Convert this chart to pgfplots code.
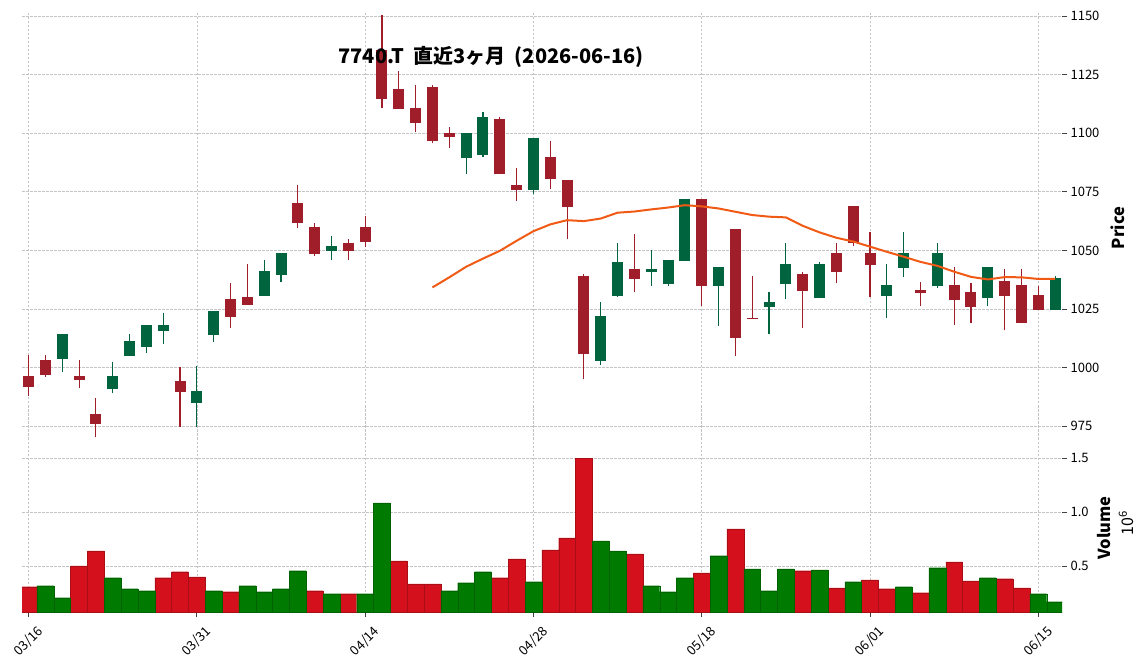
\documentclass[border=0pt]{standalone}
\usepackage{fontspec}
\setmainfont{Noto Sans CJK JP}
\usepackage{pgfplots}
\pgfplotsset{compat=1.18}
\usepackage{pgfplotstable}

\definecolor{cred}{RGB}{160,30,42}
\definecolor{cgreen}{RGB}{0,100,62}
\definecolor{vred}{RGB}{211,16,27}
\definecolor{vgreen}{RGB}{0,122,0}
\definecolor{mac}{RGB}{240,90,20}
\definecolor{gridc}{RGB}{196,196,196}

% down candles (close < open)
\pgfplotstableread{
x o h l c
0 996.3 1005.3 988.0 991.8
1 1003.2 1005.3 996.1 996.8
3 996.3 1003.2 991.1 994.6
4 980.1 986.8 970.2 975.9
9 994.2 1000.0 974.7 989.5
12 1029.2 1035.9 1017.0 1021.7
13 1030.1 1044.0 1026.7 1026.7
16 1070.3 1077.9 1059.7 1061.8
17 1059.9 1061.9 1047.7 1048.4
19 1053.3 1054.7 1045.9 1049.8
20 1059.9 1064.8 1051.6 1053.7
21 1135.5 1150.5 1110.6 1114.7
22 1118.8 1126.7 1110.4 1110.4
23 1110.9 1120.8 1100.6 1104.5
24 1119.7 1120.8 1095.7 1096.8
25 1100.1 1102.8 1093.9 1098.5
28 1106.2 1106.8 1082.7 1082.7
29 1077.9 1085.0 1070.9 1075.9
31 1090.0 1096.9 1076.2 1080.4
32 1080.0 1080.0 1054.7 1068.6
33 1039.0 1039.9 994.9 1005.7
36 1042.2 1056.8 1032.1 1037.9
40 1071.9 1071.9 1026.2 1034.9
42 1059.1 1059.1 1005.0 1012.7
43 1021.3 1039.0 1020.7 1020.7
46 1039.9 1040.9 1017.0 1032.8
48 1048.8 1053.0 1035.9 1040.9
49 1068.9 1068.9 1051.8 1053.3
50 1048.8 1057.7 1030.2 1043.7
53 1033.1 1036.6 1026.2 1031.9
55 1035.2 1042.7 1018.1 1028.8
56 1032.2 1035.9 1018.8 1025.9
58 1036.9 1041.9 1016.0 1030.6
59 1035.2 1041.9 1018.8 1018.8
60 1030.9 1034.9 1024.5 1024.5
}\redc

% up candles (close > open)
\pgfplotstableread{
x o h l c
2 1003.6 1014.3 997.9 1014.3
5 990.8 1002.2 989.0 996.3
6 1004.9 1014.3 1004.9 1011.3
7 1008.9 1018.1 1006.0 1018.1
8 1015.6 1023.1 1009.9 1018.1
10 985.0 1000.8 974.7 990.0
11 1013.8 1024.1 1011.0 1024.1
14 1030.5 1045.9 1030.5 1041.2
15 1039.5 1048.8 1036.6 1048.8
18 1049.8 1056.0 1045.9 1051.8
26 1089.5 1100.1 1082.8 1100.1
27 1090.7 1108.9 1089.7 1107.0
30 1075.7 1098.1 1074.0 1098.1
34 1002.9 1027.8 1001.0 1022.0
35 1030.5 1053.0 1030.2 1045.0
37 1040.9 1050.1 1034.9 1041.9
38 1035.6 1045.9 1034.9 1045.9
39 1045.4 1071.9 1045.4 1071.9
41 1034.9 1042.9 1017.8 1042.9
44 1025.9 1032.1 1014.1 1027.9
45 1035.6 1053.0 1029.1 1044.2
47 1029.8 1044.9 1029.8 1044.2
51 1030.6 1044.0 1021.0 1035.2
52 1042.6 1057.7 1038.7 1048.8
54 1034.8 1053.0 1033.8 1048.8
57 1029.8 1042.9 1026.2 1042.9
61 1024.5 1039.0 1024.5 1038.3
}\greenc

% moving average
\pgfplotstableread{
x m
24 1034.2
25 1038.5
26 1043.0
27 1046.5
28 1049.8
29 1054.1
30 1058.2
31 1061.1
32 1062.9
33 1062.5
34 1063.6
35 1066.1
36 1066.6
37 1067.5
38 1068.3
39 1069.3
40 1068.8
41 1067.9
42 1066.5
43 1065.1
44 1064.4
45 1064.1
46 1060.5
47 1057.7
48 1055.4
49 1053.8
50 1051.6
51 1049.4
52 1047.3
53 1045.1
54 1043.4
55 1040.9
56 1038.7
57 1037.6
58 1038.6
59 1038.5
60 1037.8
61 1037.8
}\matab

% volume (millions), falling
\pgfplotstableread{
x v
0 0.309
3 0.503
4 0.642
8 0.392
9 0.448
10 0.401
12 0.262
17 0.272
19 0.244
22 0.549
23 0.336
24 0.336
28 0.392
29 0.568
31 0.651
32 0.762
33 1.500
36 0.614
40 0.438
42 0.846
46 0.457
48 0.299
50 0.373
51 0.290
53 0.253
55 0.540
56 0.364
58 0.383
59 0.299
}\volred

% volume (millions), rising
\pgfplotstableread{
x v
1 0.318
2 0.207
5 0.392
6 0.290
7 0.272
11 0.272
13 0.318
14 0.262
15 0.290
16 0.457
18 0.244
20 0.244
21 1.086
25 0.272
26 0.346
27 0.448
30 0.355
34 0.735
35 0.642
37 0.318
38 0.262
39 0.392
41 0.596
43 0.475
44 0.272
45 0.475
47 0.466
49 0.355
52 0.309
54 0.485
57 0.392
60 0.244
61 0.170
}\volgreen

\pgfplotsset{
  common/.style={
    scale only axis, width=1040pt,
    xmin=-0.39, xmax=61.41,
    axis line style={draw=none},
    xtick={0,10,...,60},
    grid=major,
    major grid style={gridc, dash pattern=on 2.6pt off 1.4pt, line width=0.7pt},
    tick align=outside, major tick length=5pt,
    ytick pos=right, yticklabel pos=right,
    ytick style={color=black!75, line width=0.8pt},
    tick label style={font=\fontsize{13}{15}\selectfont},
    /pgf/number format/assume math mode=true,
    /pgf/number format/1000 sep={},
  },
  wick/.style={draw=none, mark=none, forget plot,
    error bars/.cd, y dir=plus, y explicit, error mark=none,
    error bar style={draw=#1, line width=1.1pt}},
  body/.style={draw=none, mark=none, forget plot,
    error bars/.cd, y dir=plus, y explicit, error mark=none,
    error bar style={draw=#1, line width=11pt}},
}

\begin{document}
\begin{tikzpicture}[x=1pt,y=1pt]
\useasboundingbox (0,0) rectangle (1148,670);

\begin{axis}[common,
  height=427.5pt, at={(22pt,230.5pt)}, anchor=south west,
  ymin=969.25, ymax=1151.8,
  xticklabels={}, xtick style={draw=none},
  ytick={975,1000,...,1150},
  ylabel={\textbf{Price}},
  ylabel style={at={([xshift=56pt]rel axis cs:1,0.495)}, anchor=center, font=\fontsize{16.5}{19}\selectfont},
  title={\textbf{7740.T\hspace{0.45em}直近3ヶ月\hspace{0.45em}(2026-06-16)}},
  title style={at={([yshift=-51pt]axis description cs:0.451,1)}, anchor=center, font=\fontsize{20}{24}\selectfont},
]
\addplot[wick=cred] table[x=x, y=l, y error expr=\thisrow{h}-\thisrow{l}] {\redc};
\addplot[body=cred] table[x=x, y=c, y error expr=\thisrow{o}-\thisrow{c}] {\redc};
\addplot[wick=cgreen] table[x=x, y=l, y error expr=\thisrow{h}-\thisrow{l}] {\greenc};
\addplot[body=cgreen] table[x=x, y=o, y error expr=\thisrow{c}-\thisrow{o}] {\greenc};
\addplot[mac, line width=2pt, mark=none] table[x=x, y=m] {\matab};
\end{axis}

\begin{axis}[common, name=vol,
  height=170.8pt, at={(22pt,57.7pt)}, anchor=south west,
  ymin=0.0713, ymax=1.656,
  xtick pos=bottom,
  xtick style={color=black!75, line width=0.8pt},
  xticklabels={03/16,03/31,04/14,04/28,05/18,06/01,06/15},
  xticklabel style={yshift=-24pt, rotate=45, anchor=center},
  ytick={0.5,1.0,1.5}, yticklabels={0.5,1.0,1.5},
  ylabel={\textbf{Volume}},
  ylabel style={at={([xshift=42pt]rel axis cs:1,0.494)}, anchor=center, font=\fontsize{16.5}{19}\selectfont},
]
\addplot[ybar, bar width=1, bar shift=0pt, fill=vred, draw=vred!80!black, line width=0.3pt] table[x=x, y=v] {\volred};
\addplot[ybar, bar width=1, bar shift=0pt, fill=vgreen, draw=vgreen!80!black, line width=0.3pt] table[x=x, y=v] {\volgreen};
\end{axis}
\node[rotate=90, font=\fontsize{16}{18}\selectfont, inner sep=0pt] at ([xshift=64pt, yshift=3.5pt]vol.east) {10\textsuperscript{6}};
\end{tikzpicture}
\end{document}
